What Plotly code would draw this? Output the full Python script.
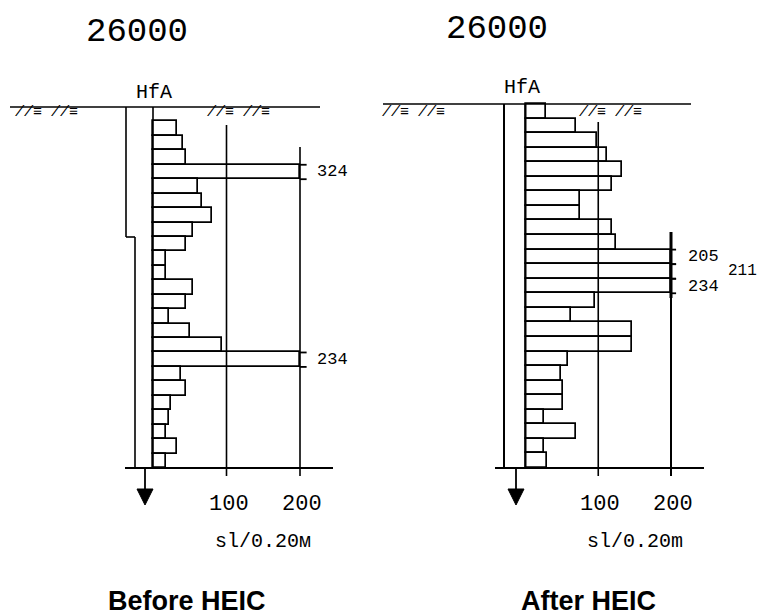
import plotly.graph_objects as go

# ---------------- data ----------------
panel_titles = ["26000", "26000"]
panel_captions = ["Before HEIC", "After HEIC"]
unit_labels = ["sl/0.20м", "sl/0.20m"]
tick_values = [100, 200]
layer_step = 0.2  # m per blow-count interval

# Before HEIC: 24 intervals from 0.2 m to 5.0 m
before_top = 0.2
before_values = [32, 41, 45, 324, 61, 67, 80, 54, 45, 18, 18, 54,
                 45, 22, 50, 94, 234, 38, 45, 24, 22, 18, 32, 18]
# After HEIC: 25 intervals from 0.0 m to 5.0 m
after_top = 0.0
after_values = [28, 69, 98, 112, 132, 119, 75, 75, 119, 124, 205, 211,
                234, 96, 63, 146, 146, 59, 49, 52, 52, 26, 70, 26, 29]

SCALE_MAX = 200
W, H = 758, 616
MONO = "Liberation Mono, DejaVu Sans Mono, monospace"

# pixel calibration of each panel (x px of value 0 / px per unit, y px of depth 0 / px per m)
cal = [
    dict(x0=153.0, kx=0.735, y0=107.0, ky=72.2, dom=[0, 0.5]),
    dict(x0=525.5, kx=0.7275, y0=104.0, ky=72.8, dom=[0.5, 1.0]),
]

fig = go.Figure()


def depths(top, n):
    return [top + layer_step * (i + 0.5) for i in range(n)]


def px2v(c, px):
    return (px - c["x0"]) / c["kx"]


def py2d(c, py):
    return (py - c["y0"]) / c["ky"]


series = [(before_top, before_values), (after_top, after_values)]

for i, (top, vals) in enumerate(series):
    c = cal[i]
    xa = "x" if i == 0 else "x2"
    ya = "y" if i == 0 else "y2"
    fig.add_trace(go.Bar(
        orientation="h",
        y=depths(top, len(vals)),
        x=[min(v, SCALE_MAX) for v in vals],
        base=0,
        width=layer_step,
        marker=dict(color="white", line=dict(color="black", width=1.7)),
        xaxis=xa, yaxis=ya, showlegend=False, hoverinfo="skip",
    ))

    dom_px0 = c["dom"][0] * W
    dom_px1 = c["dom"][1] * W
    xr = [px2v(c, dom_px0), px2v(c, dom_px1)]
    yr = [py2d(c, H), py2d(c, 0)]
    axcommon = dict(visible=False, showgrid=False, zeroline=False, fixedrange=True)
    fig.update_layout({
        ("xaxis" if i == 0 else "xaxis2"): dict(domain=c["dom"], range=xr, anchor=ya, **axcommon),
        ("yaxis" if i == 0 else "yaxis2"): dict(domain=[0, 1], range=yr, anchor=xa, **axcommon),
    })

    def line(x0, y0, x1, y1, w=1.6):
        fig.add_shape(type="line", xref=xa, yref=ya, x0=x0, y0=y0, x1=x1, y1=y1,
                      line=dict(color="black", width=w))

    bottom = top + layer_step * len(vals)
    if i == 0:
        line(px2v(c, 10), 0, px2v(c, 320), 0)
        step_d = py2d(c, 237)
        line(px2v(c, 126), 0, px2v(c, 126), step_d)
        line(px2v(c, 126), step_d, px2v(c, 135), step_d)
        line(px2v(c, 135), step_d, px2v(c, 135), bottom)
        line(0, 0, 0, bottom)
        line(tick_values[0], py2d(c, 125), tick_values[0], py2d(c, 476))
        line(tick_values[1], py2d(c, 147), tick_values[1], py2d(c, 476))
        line(px2v(c, 125), bottom, px2v(c, 333), bottom, 2)
        arrow_px = 145
        ext = 9
    else:
        line(px2v(c, 383), 0, px2v(c, 691), 0)
        line(px2v(c, 504), 0, px2v(c, 504), bottom, 2)
        line(0, 0, 0, bottom, 2)
        line(tick_values[0], py2d(c, 122), tick_values[0], py2d(c, 476))
        line(tick_values[1], py2d(c, 232), tick_values[1], py2d(c, 298), 3)
        line(tick_values[1], py2d(c, 298), tick_values[1], py2d(c, 476), 2)
        line(px2v(c, 495), bottom, px2v(c, 704), bottom, 2.2)
        arrow_px = 516
        ext = 7

    # groundwater arrow
    av = px2v(c, arrow_px)
    line(av, bottom, av, py2d(c, 492), 1.8)
    hw = 8 / c["kx"]
    fig.add_shape(type="path", xref=xa, yref=ya,
                  path=f"M {av-hw},{py2d(c,489)} L {av+hw},{py2d(c,489)} L {av},{py2d(c,505)} Z",
                  fillcolor="black", line=dict(color="black", width=1))

    # values exceeding the scale: open-ended bars + value labels
    ds = depths(top, len(vals))
    over = [k for k, v in enumerate(vals) if v > SCALE_MAX]
    for k in over:
        d, v = ds[k], vals[k]
        for edge in (d - layer_step / 2, d + layer_step / 2):
            line(SCALE_MAX, edge, SCALE_MAX + ext, edge, 1.8)
        inner = (k - 1 in over) and (k + 1 in over)
        lx = SCALE_MAX + (76 if inner else 20)
        fig.add_annotation(xref=xa, yref=ya, x=lx, y=d, text=str(v),
                           showarrow=False, xanchor="left", yanchor="middle",
                           font=dict(family=MONO, size=16 if inner else 17, color="black"))

    # tick labels
    for tv in tick_values:
        fig.add_annotation(xref=xa, yref=ya, x=tv + 3, y=py2d(c, 504), text=str(tv),
                           showarrow=False, xanchor="center", yanchor="middle",
                           font=dict(family=MONO, size=22, color="black"))
    fig.add_annotation(xref=xa, yref=ya, x=150, y=py2d(c, 541), text=unit_labels[i],
                       showarrow=False, xanchor="center", yanchor="middle",
                       font=dict(family=MONO, size=20, color="black"))

# titles, HfA, captions (paper coordinates, pixel centres)
paper_text = [
    (137, 32, panel_titles[0], MONO, 34, False),
    (497, 29, panel_titles[1], MONO, 34, False),
    (154, 92, "HfA", MONO, 20, False),
    (522, 88, "HfA", MONO, 20, False),
    (187, 601, panel_captions[0], "Liberation Sans, Arial", 27, True),
    (588, 601, panel_captions[1], "Liberation Sans, Arial", 27, True),
]
for x, y, t, fam, sz, bold in paper_text:
    fig.add_annotation(xref="paper", yref="paper", x=x / W, y=1 - y / H,
                       xanchor="center", yanchor="middle",
                       text=f"<b>{t}</b>" if bold else t, showarrow=False,
                       font=dict(family=fam, size=sz, color="black"))

# soil hatch symbols
for x, y in [(46, 113), (238, 113), (413, 112), (610, 112)]:
    fig.add_annotation(xref="paper", yref="paper", x=x / W, y=1 - y / H,
                       xanchor="center", yanchor="middle",
                       text="<i>//≡ //≡</i>", showarrow=False,
                       font=dict(family=MONO, size=15, color="black"))

fig.update_layout(
    width=W, height=H, margin=dict(l=0, r=0, t=0, b=0),
    paper_bgcolor="white", plot_bgcolor="rgba(0,0,0,0)",
    bargap=0, showlegend=False,
)

fig.write_html("out.html", config={"displayModeBar": False})
